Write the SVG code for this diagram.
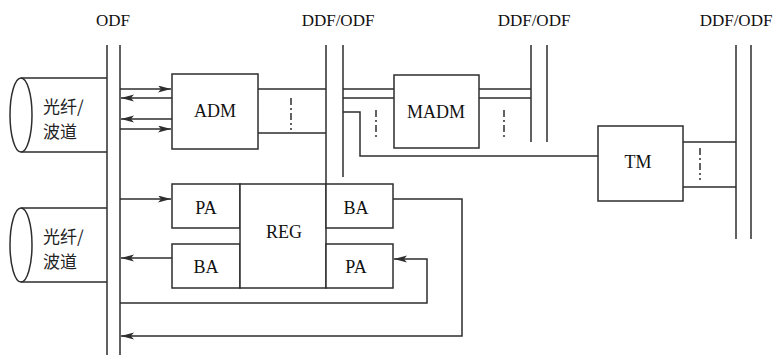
<svg xmlns="http://www.w3.org/2000/svg" width="776" height="355" viewBox="0 0 776 355">
<style>
.ln{fill:none;stroke:#2e2e2e;stroke-width:1.5}
.dash{fill:none;stroke:#2e2e2e;stroke-width:1.5;stroke-dasharray:7,3,2,3}
.box{fill:#fff;stroke:#2e2e2e;stroke-width:1.5}
.lbl{font-family:"Liberation Serif","Times New Roman",serif;font-size:17px;fill:#111;text-anchor:middle}
.nd{font-size:18px}
.cjk{font-family:"Noto Sans CJK SC","Noto Sans",sans-serif;font-size:17px;fill:#222}
</style>
<defs>
<marker id="ah" markerUnits="userSpaceOnUse" markerWidth="14" markerHeight="8" refX="13" refY="3.5" orient="auto">
<path d="M0,0 L13,3.5 L0,7 L3,3.5 z" fill="#2e2e2e"/>
</marker>
</defs>
<rect width="776" height="355" fill="#fff"/>

<g id="labels">
<text class="lbl" x="113" y="26">ODF</text>
<text class="lbl" x="338" y="26">DDF/ODF</text>
<text class="lbl" x="534" y="26">DDF/ODF</text>
<text class="lbl" x="736" y="26">DDF/ODF</text>
</g>

<g id="odf1"><path class="ln" d="M107,45 V355 M120,45 V355"/></g>
<g id="ddf2"><path class="ln" d="M326,45 V184 M343,45 V177"/></g>
<g id="ddf3"><path class="ln" d="M531,45 V142 M547,45 V142"/></g>
<g id="ddf4"><path class="ln" d="M736,45 V239 M751,45 V239"/></g>

<g id="fiber1">
<path class="ln" d="M21,78 H107 M21,152 H107"/>
<ellipse class="ln" cx="21" cy="115" rx="11" ry="37"/>
<text class="cjk" x="43" y="113">光纤/</text>
<text class="cjk" x="43" y="138">波道</text>
</g>
<g id="fiber2">
<path class="ln" d="M21,208 H107 M21,282 H107"/>
<ellipse class="ln" cx="21" cy="245" rx="11" ry="37"/>
<text class="cjk" x="43" y="243">光纤/</text>
<text class="cjk" x="43" y="268">波道</text>
</g>

<g id="adm"><rect class="box" x="172" y="74" width="86" height="75"/><text class="lbl nd" x="215" y="117">ADM</text></g>
<g id="madm"><rect class="box" x="394" y="75" width="85" height="73"/><text class="lbl nd" x="436" y="118">MADM</text></g>
<g id="tm"><rect class="box" x="598" y="126" width="85" height="75"/><text class="lbl nd" x="638" y="168">TM</text></g>
<g id="pa1"><rect class="box" x="172" y="184" width="68" height="44"/><text class="lbl nd" x="206" y="214">PA</text></g>
<g id="ba1"><rect class="box" x="172" y="244" width="68" height="44"/><text class="lbl nd" x="206" y="273">BA</text></g>
<g id="reg"><rect class="box" x="240" y="184" width="86" height="104"/><text class="lbl nd" x="284" y="238">REG</text></g>
<g id="ba2"><rect class="box" x="326" y="184" width="67" height="44"/><text class="lbl nd" x="356" y="214">BA</text></g>
<g id="pa2"><rect class="box" x="326" y="244" width="67" height="44"/><text class="lbl nd" x="356" y="273">PA</text></g>

<g id="connectors">
<path class="ln" d="M120,89 H171" marker-end="url(#ah)"/>
<path class="ln" d="M172,98 H121" marker-end="url(#ah)"/>
<path class="ln" d="M172,119 H121" marker-end="url(#ah)"/>
<path class="ln" d="M120,129 H171" marker-end="url(#ah)"/>
<path class="ln" d="M258,89 H326 M258,133 H326"/>
<path class="dash" d="M291,98 V130"/>
<path class="ln" d="M343,89 H394 M343,98 H394"/>
<path class="ln" d="M479,89 H531 M479,98 H531"/>
<path class="ln" d="M343,112 H360 V156 H598"/>
<path class="dash" d="M376,110 V140"/>
<path class="dash" d="M504,110 V140"/>
<path class="ln" d="M683,142 H736 M683,187 H736"/>
<path class="dash" d="M700,148 V180"/>
<path class="ln" d="M120,199 H171" marker-end="url(#ah)"/>
<path class="ln" d="M172,258 H121" marker-end="url(#ah)"/>
<path class="ln" d="M393,199 H462 V336 H121" marker-end="url(#ah)"/>
<path class="ln" d="M120,303 H427 V259 H394" marker-end="url(#ah)"/>
</g>
</svg>
